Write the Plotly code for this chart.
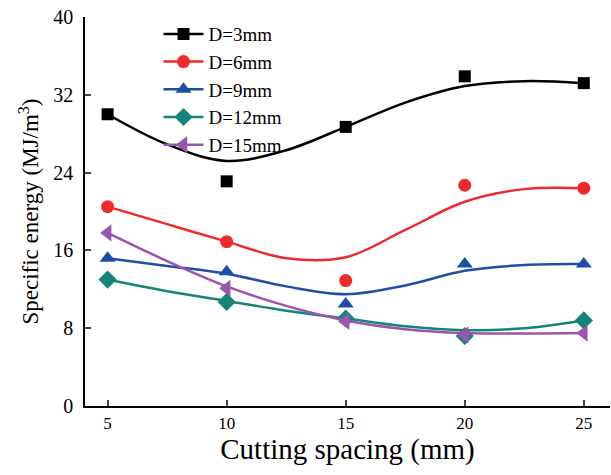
import plotly.graph_objects as go

spacing = [5, 10, 15, 20, 25]
names = ["D=3mm", "D=6mm", "D=9mm", "D=12mm", "D=15mm"]
d3 = [30.0, 23.1, 28.7, 33.9, 33.2]
d6 = [20.5, 16.9, 12.9, 22.7, 22.4]
d9 = [15.2, 13.8, 10.5, 14.6, 14.6]
d12 = [13.0, 10.7, 9.0, 7.2, 8.8]
d15 = [17.8, 12.1, 8.7, 7.3, 7.5]

# fitted curve values
fit_x = [5, 7.5, 10, 12.5, 15, 17.5, 20, 22.5, 25]
fit3 = [30.0, 26.9, 25.2, 26.3, 28.7, 31.2, 32.9, 33.4, 33.2]
fit6 = [20.5, 18.7, 16.9, 15.2, 15.3, 18.1, 21.0, 22.3, 22.4]
fit9 = [15.2, 14.4, 13.6, 12.3, 11.5, 12.4, 13.9, 14.5, 14.6]
fit12 = [13.0, 11.8, 10.8, 9.8, 9.0, 8.2, 7.8, 8.0, 8.8]
fit15 = [17.8, 14.9, 12.3, 10.3, 8.8, 7.9, 7.5, 7.45, 7.5]

colors = ["#000000", "#EE2A2A", "#1E4FA6", "#168478", "#9B55AE"]
symbols = ["square", "circle", "triangle-up", "diamond", "triangle-left"]
sizes = [12, 13, 14, 14, 15]

fig = go.Figure()
data = [d3, d6, d9, d12, d15]
fits = [fit3, fit6, fit9, fit12, fit15]
for n, d, f, c, s, sz in zip(names, data, fits, colors, symbols, sizes):
    fig.add_trace(go.Scatter(x=fit_x, y=f, mode="lines", line=dict(color=c, width=2.5, shape="spline", smoothing=1.0),
                             showlegend=False, hoverinfo="skip"))
    fig.add_trace(go.Scatter(x=spacing, y=d, mode="markers", marker=dict(symbol=s, color=c, size=sz),
                             showlegend=False))
    fig.add_trace(go.Scatter(x=[None], y=[None], mode="lines+markers", name=n,
                             line=dict(color=c, width=2.5), marker=dict(symbol=s, color=c, size=sz)))

font = "Liberation Serif, Times New Roman, serif"
fig.update_layout(
    width=611, height=475,
    margin=dict(l=85, r=1, t=17, b=69),
    plot_bgcolor="white", paper_bgcolor="white",
    font=dict(family=font, color="black", size=17),
    legend=dict(x=0.14, y=1.005, xanchor="left", yanchor="top", bgcolor="rgba(0,0,0,0)",
                font=dict(size=19, family=font), tracegroupgap=0, itemwidth=40),
    xaxis=dict(range=[4.05, 26.1], tickvals=spacing, ticks="inside", ticklen=6, tickwidth=1.5,
               showline=True, linecolor="black", linewidth=1.5, showgrid=False, zeroline=False,
               tickfont=dict(size=17), ticklabelstandoff=1,
               title=dict(text="Cutting spacing (mm)", font=dict(size=29), standoff=3)),
    yaxis=dict(range=[0, 40], tickvals=[0, 8, 16, 24, 32, 40], ticks="inside", ticklen=6, tickwidth=1.5,
               showline=True, linecolor="black", linewidth=1.5, showgrid=False, zeroline=False,
               tickfont=dict(size=20), ticklabelstandoff=6,
               title=dict(text="Specific energy (MJ/m<sup>3</sup>)", font=dict(size=23), standoff=8)),
)
fig.write_html("out.html")
